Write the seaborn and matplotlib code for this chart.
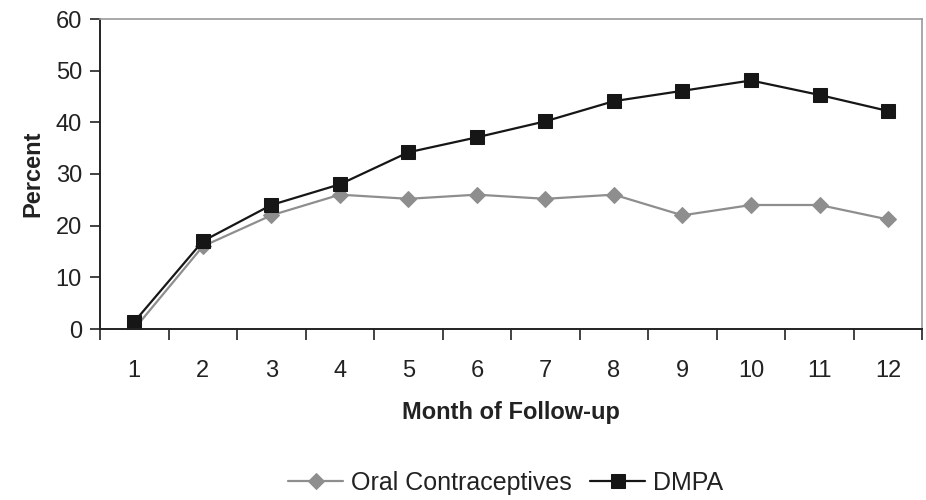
import numpy as np
import pandas as pd
import matplotlib
matplotlib.use("Agg")
import matplotlib.pyplot as plt
import seaborn as sns

# ---------------- DATA ----------------
months = list(range(1, 13))
month_labels = [str(m) for m in months]
oral = [0, 16, 22, 26, 25.2, 26, 25.2, 26, 22, 24, 24, 21.2]
dmpa = [1.4, 17, 24, 28, 34.2, 37.1, 40.2, 44.1, 46.1, 48.1, 45.3, 42.2]

df = pd.DataFrame({
    "Month": months * 2,
    "Percent": oral + dmpa,
    "Group": ["Oral Contraceptives"] * 12 + ["DMPA"] * 12,
})

# ---------------- PLOT ----------------
sns.set_style("white")
plt.rcParams["font.family"] = ["Liberation Sans", "DejaVu Sans"]

fig = plt.figure(figsize=(9.26, 5.0), dpi=100)
ax = fig.add_axes([0.108, 0.342, 0.888, 0.62])

colors = {"Oral Contraceptives": "#8e8e8e", "DMPA": "#161616"}
markers = {"Oral Contraceptives": "D", "DMPA": "s"}
sizes = {"Oral Contraceptives": 8.5, "DMPA": 9.5}

for grp in ["Oral Contraceptives", "DMPA"]:
    sub = df[df["Group"] == grp]
    sns.lineplot(data=sub, x="Month", y="Percent", ax=ax, color=colors[grp],
                 marker=markers[grp], markersize=sizes[grp], markeredgecolor=colors[grp],
                 linewidth=1.6, label=grp)

ax.set_xlim(0.5, 12.5)
ax.set_ylim(0, 60)
ax.set_yticks(np.arange(0, 61, 10))

# category style axis: ticks between months, labels at centers
ax.set_xticks(np.arange(0.5, 13, 1))
ax.set_xticklabels([])
ax.set_xticks(months, minor=True)
ax.set_xticklabels(month_labels, minor=True)
ax.tick_params(axis="x", which="major", bottom=True, direction="out", length=8, width=1.2, color="#222222")
ax.tick_params(axis="x", which="minor", bottom=True, length=0, pad=22, labelsize=17, labelcolor="#222222")
ax.tick_params(axis="y", left=True, direction="out", length=7, width=1.2, color="#222222",
               labelsize=17, pad=6, labelcolor="#222222")

for s in ["left", "bottom"]:
    ax.spines[s].set_color("#222222")
    ax.spines[s].set_linewidth(1.4)
for s in ["top", "right"]:
    ax.spines[s].set_color("#9a9a9a")
    ax.spines[s].set_linewidth(1.2)

ax.set_xlabel("Month of Follow-up", fontsize=17, fontweight="bold", labelpad=14, color="#222222")
ax.set_ylabel("Percent", fontsize=17, fontweight="bold", labelpad=8, color="#222222")

leg = ax.legend(loc="center", bbox_to_anchor=(0.546, 0.034), bbox_transform=fig.transFigure,
                ncol=2, frameon=False, fontsize=18, handlelength=2.2, columnspacing=0.75,
                handletextpad=0.3)
for t in leg.get_texts():
    t.set_color("#222222")

fig.savefig("out.png", dpi=100)
